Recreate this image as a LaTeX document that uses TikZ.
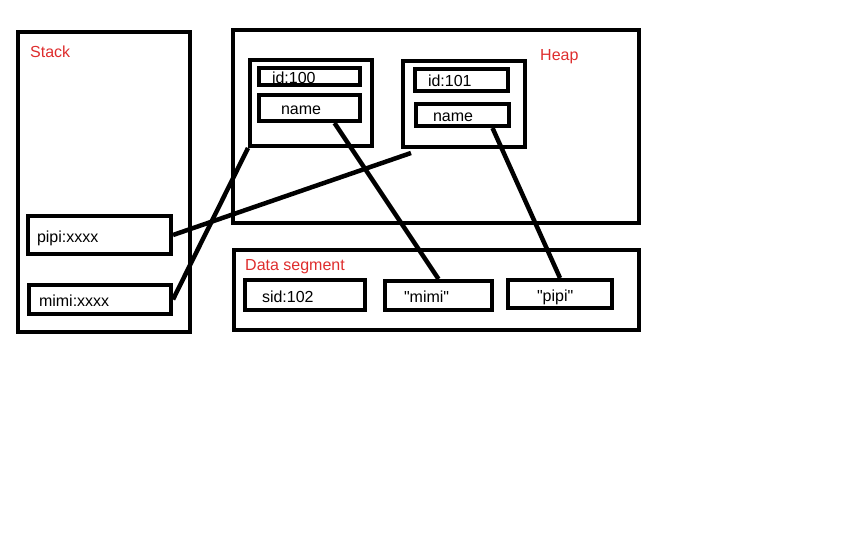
\documentclass[tikz,border=0pt]{standalone}
\usepackage{fontspec}
\setmainfont{Liberation Sans}
\usepackage{xcolor}
\usetikzlibrary{calc}
\definecolor{memred}{RGB}{222,45,45}

\begin{document}
\begin{tikzpicture}[
        x=1pt, y=-1pt,
        every node/.style={font=\fontsize{16}{19}\selectfont},
        area/.style={draw, line width=4pt, inner sep=0pt},
        cell/.style={draw, line width=4pt, inner ysep=0pt, align=left, text height=14pt, text depth=0pt},
        tag/.style={text=memred, anchor=base west, inner sep=0pt},
        link/.style={line width=4.5pt}
    ]
        \useasboundingbox (0,0) rectangle (864,540);

        % Stack
        \node[area, minimum width=172pt, minimum height=300pt] (stack) at (104,182) {};
        \node[tag] (stacklbl) at (30,58) {Stack};
        \node[cell, minimum height=38pt, inner xsep=9pt, text width=125pt] (pipi) at (99.5,235) {pipi:xxxx};
        \node[cell, minimum height=29pt, inner xsep=10pt, text width=122pt] (mimi) at (100,299.5) {mimi:xxxx};

        % Heap
        \node[area, minimum width=406pt, minimum height=193pt] (heap) at (436,126.5) {};
        \node[tag] (heaplbl) at (540,61) {Heap};
        \node[area, minimum width=122pt, minimum height=86pt] (obj1) at (311,103) {};
        \node[cell, minimum height=17pt, inner xsep=13pt, text width=75pt] (id1) at (309.5,76.5) {id:100};
        \node[cell, minimum height=26pt, inner xsep=22pt, text width=57pt] (name1) at (309.5,108) {name};
        \node[area, minimum width=122pt, minimum height=86pt] (obj2) at (464,104) {};
        \node[cell, minimum height=22pt, inner xsep=13pt, text width=67pt] (id2) at (461.5,80) {id:101};
        \node[cell, minimum height=22pt, inner xsep=17pt, text width=59pt] (name2) at (462.5,115) {name};

        % Data segment
        \node[area, minimum width=405pt, minimum height=80pt] (data) at (436.5,290) {};
        \node[tag] (datalbl) at (245,270) {Data segment};
        \node[cell, minimum height=30pt, inner xsep=17pt, text width=86pt] (sid) at (305,295) {sid:102};
        \node[cell, minimum height=29pt, inner xsep=19pt, text width=69pt] (mimistr) at (438.5,295.5) {\textquotedbl mimi\textquotedbl};
        \node[cell, minimum height=28pt, inner xsep=29pt, text width=46pt] (pipistr) at (560,294) {\textquotedbl pipi\textquotedbl};

        % References
        \draw[link] (pipi.east) -- ([xshift=10pt, yshift=-4pt]obj2.south west);
        \draw[link] (mimi.east) -- (obj1.south west);
        \draw[link] ([xshift=25pt]name1.south) -- (mimistr.north);
        \draw[link] ([xshift=30pt]name2.south) -- (pipistr.north);
    \end{tikzpicture}
\end{document}
